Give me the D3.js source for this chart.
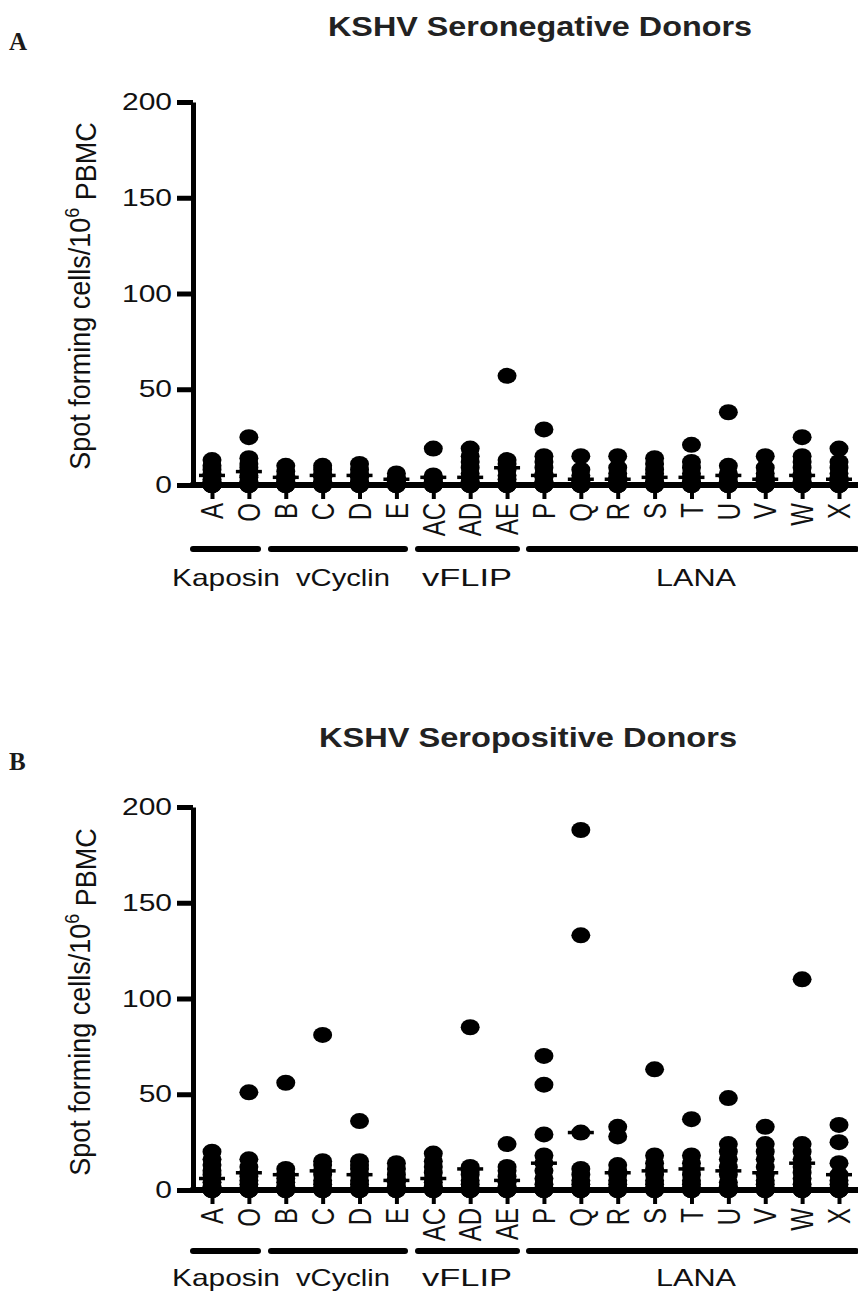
<!DOCTYPE html>
<html><head><meta charset="utf-8">
<script src="https://cdn.jsdelivr.net/npm/d3@7"></script>
<style>body{margin:0;background:#fff}svg{display:block}text{font-family:"Liberation Sans",Arial,sans-serif}</style>
</head><body>
<svg id="c" width="858" height="1292"></svg>
<script>
const categories = ["A","O","B","C","D","E","AC","AD","AE","P","Q","R","S","T","U","V","W","X"];
const groups = [
  {name:"Kaposin", from:"A", to:"O"},
  {name:"vCyclin", from:"B", to:"E"},
  {name:"vFLIP", from:"AC", to:"AE"},
  {name:"LANA", from:"P", to:"X"}
];
const yTicks = [0,50,100,150,200];

// Panel A: KSHV seronegative donors (spot forming cells / 10^6 PBMC)
const negValues = [
  [0,0,0,0,1,2,3,5,6,8,10,13],
  [0,0,0,1,2,4,5,7,9,11,14,25],
  [0,0,0,1,2,3,5,7,10],
  [0,0,0,1,2,4,6,8,10],
  [0,0,0,1,2,4,6,8,11],
  [0,0,0,1,2,3,4,6],
  [0,0,0,1,2,3,5,19],
  [0,0,0,1,2,4,6,9,12,15,19],
  [0,0,0,1,3,5,8,11,13,57],
  [0,0,0,1,2,4,6,9,12,15,29],
  [0,0,0,1,2,3,5,8,15],
  [0,0,0,1,2,4,6,9,15],
  [0,0,0,1,2,4,6,8,11,14],
  [0,0,0,1,2,4,6,9,12,21],
  [0,0,0,1,2,4,6,10,38],
  [0,0,0,1,2,4,6,9,15],
  [0,0,0,1,2,4,6,9,12,15,25],
  [0,0,0,1,2,4,6,9,12,19]
];
const negMedians = [5,7,4,5,5,3,4,4,9,5,3,3,4,4,5,3,5,3];

// Panel B: KSHV seropositive donors
const posValues = [
  [0,0,0,1,2,4,6,8,10,13,16,20],
  [0,0,0,1,3,5,7,9,12,16,51],
  [0,0,0,1,2,4,6,8,11,56],
  [0,0,0,1,3,5,8,10,13,15,81],
  [0,0,0,1,3,5,8,11,13,15,36],
  [0,0,0,1,2,4,6,8,11,14],
  [0,0,0,1,2,4,6,9,12,15,19],
  [0,0,0,1,3,5,8,10,12,85],
  [0,0,0,1,2,4,7,10,12,24],
  [0,0,0,1,3,6,10,14,18,29,55,70],
  [0,0,0,1,3,5,8,11,30,133,188],
  [0,0,0,1,3,5,8,10,13,28,33],
  [0,0,0,1,3,5,8,11,14,18,63],
  [0,0,0,1,3,5,8,11,14,18,37],
  [0,0,0,1,2,4,8,12,16,20,24,48],
  [0,0,0,1,3,5,8,12,16,20,24,33],
  [0,0,0,1,3,6,9,12,16,20,24,110],
  [0,0,0,1,3,5,8,14,25,34]
];
const posMedians = [6,9,8,10,8,5,6,11,5,14,30,9,10,11,10,9,14,8];

const svg = d3.select("#c");

function stretch(sel, f){
  sel.each(function(){
    const w = this.getComputedTextLength();
    d3.select(this).attr("textLength", w*f).attr("lengthAdjust","spacingAndGlyphs");
  });
}

const x = d3.scalePoint().domain(categories).range([212, 839]);
const groupSpan = {Kaposin:[193,258], vCyclin:[271,405], vFLIP:[418,517], LANA:[529,856]};
const groupLabel = {Kaposin:[226,108], vCyclin:[343,94], vFLIP:[467,90], LANA:[696,80]};

function panel(o){
  const g = svg.append("g");
  const y = d3.scaleLinear().domain([0,200]).range([o.y0, o.y0-383]);
  const axX = 193;

  g.append("text").attr("x", 9).attr("y", o.letterY).text(o.letter)
    .style("font-family","'Liberation Serif','Times New Roman',serif")
    .style("font-weight","bold").style("font-size","25px").attr("fill","#1a1a1a");

  const t = g.append("text").attr("x", o.titleX).attr("y", o.titleY).attr("text-anchor","middle")
    .style("font-weight","bold").style("font-size","27px").attr("fill","#222").text(o.title)
    .attr("textLength", o.titleW).attr("lengthAdjust","spacingAndGlyphs");

  const ya = g.append("g").attr("transform", `translate(${axX},0)`)
    .call(d3.axisLeft(y).tickValues(yTicks).tickSize(16).tickSizeOuter(0).tickPadding(5));
  ya.select(".domain").attr("stroke-width",5).attr("stroke","#000");
  ya.selectAll(".tick line").attr("stroke-width",5).attr("stroke","#000");
  ya.selectAll(".tick text").style("font-size","24px").attr("fill","#111");
  stretch(ya.selectAll(".tick text"), 1.25);

  const yt = g.append("text").attr("text-anchor","middle")
    .attr("transform", `translate(${o.ytX},${o.ytY}) scale(1.12,1) rotate(-90)`)
    .style("font-size","27px").attr("fill","#111");
  yt.append("tspan").text("Spot forming cells/10");
  yt.append("tspan").text("6").attr("dy","-0.55em").style("font-size","18px");
  yt.append("tspan").text(" PBMC").attr("dy","0.55em");

  g.append("line").attr("x1", axX-2.5).attr("x2", 858).attr("y1", y(0)).attr("y2", y(0))
    .attr("stroke","#000").attr("stroke-width",6);
  const xa = g.append("g").attr("transform", `translate(0,${y(0)})`)
    .call(d3.axisBottom(x).tickSize(14).tickSizeOuter(0).tickFormat(""));
  xa.select(".domain").remove();
  xa.selectAll(".tick line").attr("stroke-width",4).attr("stroke","#000");

  g.selectAll(".cat").data(categories).join("text").attr("class","cat")
    .attr("text-anchor","end").attr("dy","0.36em")
    .attr("transform", d => `translate(${x(d)},${y(0)+18}) scale(1.3,1) rotate(-90)`)
    .style("font-size","24px").attr("fill","#111").text(d => d);

  const pts = [];
  o.values.forEach((arr,i) => arr.forEach(v => pts.push({c:categories[i], v})));
  g.selectAll(".dot").data(pts).join("ellipse").attr("class","dot")
    .attr("cx", d => x(d.c)).attr("cy", d => y(d.v)).attr("rx", 9.5).attr("ry", 8).attr("fill","#000");

  g.selectAll(".med").data(o.medians).join("line").attr("class","med")
    .attr("x1", (d,i) => x(categories[i]) - 13).attr("x2", (d,i) => x(categories[i]) + 13)
    .attr("y1", d => y(d)).attr("y2", d => y(d)).attr("stroke","#000").attr("stroke-width",3.5);

  groups.forEach(gr => {
    const [a,b] = groupSpan[gr.name];
    g.append("line").attr("x1",a).attr("x2",b).attr("y1",o.brY).attr("y2",o.brY)
      .attr("stroke","#000").attr("stroke-width",6).attr("stroke-linecap","round");
    const [lx, lw] = groupLabel[gr.name];
    g.append("text").attr("x", lx).attr("y", o.brY+o.lblDy)
      .attr("text-anchor","middle").style("font-size","24px").attr("fill","#111").text(gr.name)
      .attr("textLength", lw).attr("lengthAdjust","spacingAndGlyphs");
  });
}

panel({letter:"A", letterY:50, title:"KSHV Seronegative Donors", titleX:540, titleY:36, titleW:424,
  y0:485, ytX:90, ytY:296, brY:549, lblDy:37, values:negValues, medians:negMedians});
panel({letter:"B", letterY:770, title:"KSHV Seropositive Donors", titleX:528, titleY:747, titleW:418,
  y0:1190, ytX:90, ytY:1002, brY:1251, lblDy:35, values:posValues, medians:posMedians});
</script>
</body></html>
